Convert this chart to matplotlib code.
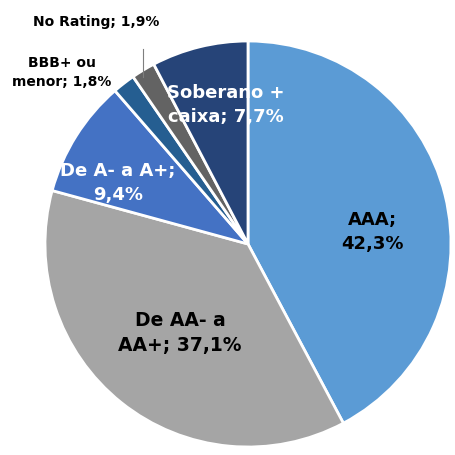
import matplotlib.pyplot as plt

labels = ["AAA", "De AA- a\nAA+", "De A- a A+", "BBB+ ou\nmenor", "No Rating", "Soberano +\ncaixa"]
values = [42.3, 37.1, 9.4, 1.8, 1.9, 7.7]
colors = ["#5B9BD5", "#A5A5A5", "#4472C4", "#255E91", "#636363", "#264478"]

# label text, position (data coords), colour, size
texts = ["AAA;\n42,3%", "De AA- a\nAA+; 37,1%", "De A- a A+;\n9,4%",
         "BBB+ ou\nmenor; 1,8%", "No Rating; 1,9%", "Soberano +\ncaixa; 7,7%"]
pos = [(0.611, 0.064), (-0.335, -0.433), (-0.640, 0.305),
       (-0.916, 0.852), (-0.749, 1.099), (-0.108, 0.690)]
tcolors = ["black", "black", "white", "black", "black", "white"]
tsizes = [13, 13.5, 13, 10, 10, 13]

fig = plt.figure(figsize=(4.56, 4.56), dpi=100)
r = 203 / 456
cx, cy = 248 / 456, (456 - 245) / 456
ax = fig.add_axes([cx - r, cy - r, 2 * r, 2 * r])

ax.pie(values, colors=colors, startangle=90, counterclock=False, radius=1,
       wedgeprops={"edgecolor": "white", "linewidth": 2})

for t, p, c, s in zip(texts, pos, tcolors, tsizes):
    ax.text(p[0], p[1], t, ha="center", va="center", color=c, fontsize=s,
            fontweight="bold", linespacing=1.45, clip_on=False)

# leader line for No Rating
ax.plot([-0.517, -0.517], [0.961, 0.823], color="#7F7F7F", lw=0.8, clip_on=False)

ax.set_xlim(-1, 1)
ax.set_ylim(-1, 1)
ax.set_aspect("equal")
ax.axis("off")

fig.savefig("out.png", dpi=100)
